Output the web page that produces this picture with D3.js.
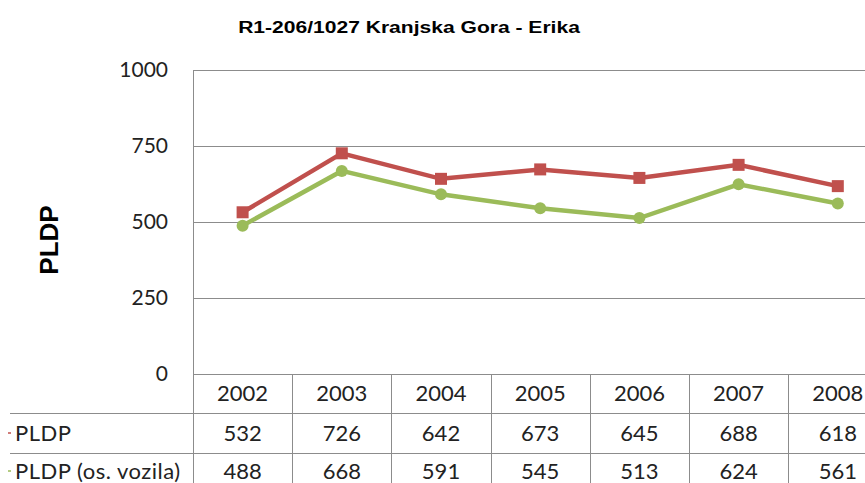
<!DOCTYPE html>
<html>
<head>
<meta charset="utf-8">
<script src="https://cdn.jsdelivr.net/npm/d3@7"></script>
<style>
  body { margin: 0; background: #fff; }
  svg { display: block; }
</style>
</head>
<body>
<svg id="chart" width="865" height="483"></svg>
<script>
const years = ["2002", "2003", "2004", "2005", "2006", "2007", "2008"];
const pldp = [532, 726, 642, 673, 645, 688, 618];
const pldpOs = [488, 668, 591, 545, 513, 624, 561];
const seriesNames = ["PLDP", "PLDP (os. vozila)"];
const yTicks = [0, 250, 500, 750, 1000];

const colors = { red: "#c0504d", green: "#9bbb59", grid: "#8c8c8c" };
const tableFont = "Lato, 'Open Sans', sans-serif";

const svg = d3.select("#chart");

const plot = { left: 193, top: 70, bottom: 374, band: 99.2 };
const rowH = [39, 40, 36];

const x = d3.scaleBand()
  .domain(years)
  .range([plot.left, plot.left + plot.band * years.length])
  .paddingInner(0).paddingOuter(0);

const y = d3.scaleLinear().domain([0, 1000]).range([plot.bottom, plot.top]);

// title (source is a bit stretched sideways)
svg.append("text")
  .attr("transform", "translate(409,33) scale(1.24,1)")
  .attr("text-anchor", "middle")
  .attr("font-family", "'Liberation Sans', Arial, sans-serif")
  .attr("font-weight", "bold")
  .attr("font-size", 17)
  .text("R1-206/1027 Kranjska Gora - Erika");

// gridlines
svg.append("g")
  .selectAll("line")
  .data(yTicks.filter((t) => t > 0))
  .join("line")
  .attr("x1", plot.left).attr("x2", 865)
  .attr("y1", (d) => y(d) + 0.5).attr("y2", (d) => y(d) + 0.5)
  .attr("stroke", colors.grid);

// y axis labels
svg.append("g")
  .selectAll("text")
  .data(yTicks)
  .join("text")
  .attr("x", 168).attr("y", (d) => y(d))
  .attr("dy", "0.35em")
  .attr("text-anchor", "end")
  .attr("font-family", tableFont)
  .attr("font-size", 21)
  .attr("fill", "#222")
  .text((d) => d);

svg.append("text")
  .attr("transform", "translate(58,240) rotate(-90)")
  .attr("text-anchor", "middle")
  .attr("font-family", "'Liberation Sans', Arial, sans-serif")
  .attr("font-weight", "bold")
  .attr("font-size", 26)
  .text("PLDP");

// data table
const tableTop = plot.bottom;
const rowY = [tableTop, tableTop + rowH[0], tableTop + rowH[0] + rowH[1], 483];

svg.append("g")
  .selectAll("line")
  .data(rowY.slice(0, 3))
  .join("line")
  .attr("x1", (d, i) => (i === 0 ? plot.left : 10)).attr("x2", 865)
  .attr("y1", (d) => d + 0.5).attr("y2", (d) => d + 0.5)
  .attr("stroke", colors.grid);

const bounds = years.map((yr) => x(yr)).concat([x.range()[1]]);
svg.append("g")
  .selectAll("line")
  .data(bounds)
  .join("line")
  .attr("x1", (d) => Math.round(d) + 0.5).attr("x2", (d) => Math.round(d) + 0.5)
  .attr("y1", (d, i) => (i === 0 ? plot.top : tableTop))
  .attr("y2", 483)
  .attr("stroke", colors.grid);

const cellText = (g, vals, yc) => {
  g.selectAll(null)
    .data(vals)
    .join("text")
    .attr("x", (d, i) => x(years[i]) + x.bandwidth() / 2)
    .attr("y", yc)
    .attr("dy", "0.35em")
    .attr("text-anchor", "middle")
    .attr("font-family", tableFont)
    .attr("font-size", 22)
    .attr("fill", "#222")
    .text((d) => d);
};

const tg = svg.append("g");
cellText(tg, years, rowY[0] + rowH[0] / 2);
cellText(tg, pldp, rowY[1] + rowH[1] / 2);
cellText(tg, pldpOs, rowY[2] + 18);

[[seriesNames[0], colors.red, rowY[1] + rowH[1] / 2], [seriesNames[1], colors.green, rowY[2] + 18]]
  .forEach(([name, c, yc]) => {
    svg.append("line")
      .attr("x1", 8).attr("x2", 11)
      .attr("y1", yc).attr("y2", yc)
      .attr("stroke", c).attr("stroke-width", 1.5);
    svg.append("text")
      .attr("x", 15).attr("y", yc)
      .attr("dy", "0.35em")
      .attr("font-family", tableFont)
      .attr("font-size", 22)
      .attr("letter-spacing", 0.5)
      .attr("fill", "#222")
      .text(name);
  });

// lines
const line = d3.line()
  .x((d, i) => x(years[i]) + x.bandwidth() / 2)
  .y((d) => y(d));

svg.append("path")
  .datum(pldpOs)
  .attr("d", line)
  .attr("fill", "none")
  .attr("stroke", colors.green)
  .attr("stroke-width", 4.5);

svg.append("g")
  .selectAll("circle")
  .data(pldpOs)
  .join("circle")
  .attr("cx", (d, i) => x(years[i]) + x.bandwidth() / 2)
  .attr("cy", (d) => y(d))
  .attr("r", 6)
  .attr("fill", colors.green);

svg.append("path")
  .datum(pldp)
  .attr("d", line)
  .attr("fill", "none")
  .attr("stroke", colors.red)
  .attr("stroke-width", 4.5);

svg.append("g")
  .selectAll("rect")
  .data(pldp)
  .join("rect")
  .attr("x", (d, i) => x(years[i]) + x.bandwidth() / 2 - 6)
  .attr("y", (d) => y(d) - 6)
  .attr("width", 12).attr("height", 12)
  .attr("fill", colors.red);
</script>
</body>
</html>
